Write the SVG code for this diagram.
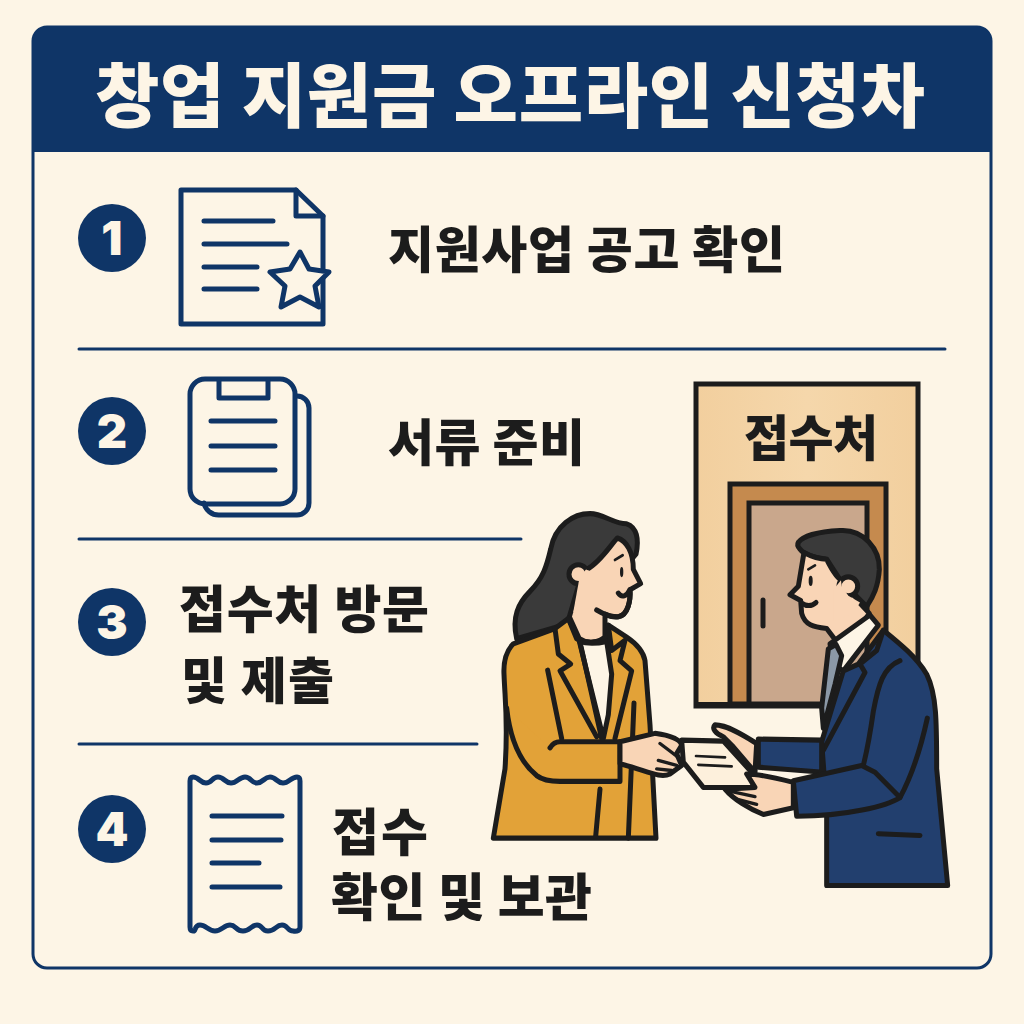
<svg xmlns="http://www.w3.org/2000/svg" width="1024" height="1024" viewBox="0 0 1024 1024">
<style>
.t{font-family:"Noto Sans CJK KR","Noto Sans",sans-serif;font-weight:900;fill:#1c1c1c}
.n{font-family:"Inter","Liberation Sans",sans-serif;font-weight:900;fill:#fdf5e6;font-size:47px;text-anchor:middle}
.i{fill:none;stroke:#0f3567;stroke-width:5;stroke-linecap:round;stroke-linejoin:round}
.d{fill:none;stroke:#0f3567;stroke-width:3;stroke-linecap:round}
.k{stroke:#1c1c1c;stroke-width:15;stroke-linejoin:round;stroke-linecap:round}
.l{fill:none;stroke:#1c1c1c;stroke-width:15;stroke-linejoin:round;stroke-linecap:round}
.c{fill:#0f3567}
</style>
<defs><linearGradient id="w" x1="0" x2="1" y1="0" y2="0"><stop offset="0" stop-color="#f2cf9e"/><stop offset=".5" stop-color="#f5d7ab"/><stop offset="1" stop-color="#f2cf9e"/></linearGradient></defs>
<rect width="1024" height="1024" fill="#fdf5e6"/>
<g id="frame">
<rect x="33" y="27" width="958" height="941" rx="14" fill="#fdf5e6" stroke="#0f3567" stroke-width="3"/>
<path d="M33,152V41a14,14 0 0 1 14,-14H977a14,14 0 0 1 14,14V152Z" fill="#0f3567"/>
<text x="95" y="122" class="t" style="fill:#fdf5e6;font-size:70px" textLength="830">창업 지원금 오프라인 신청차</text>
</g>
<g id="dividers">
<line class="d" x1="79" y1="349" x2="945" y2="349"/>
<line class="d" x1="79" y1="539" x2="521" y2="539"/>
<line class="d" x1="79" y1="744" x2="477" y2="744"/>
</g>
<g id="step1">
<circle class="c" cx="112" cy="238" r="34"/><text class="n" x="112" y="255">1</text>
<path class="i" d="M296,190H181V324H323V216Z"/>
<path class="i" d="M296,190V216H323"/>
<path class="i" d="M204,221H273M204,244H287M204,267H257M204,289H257"/>
<path d="M300,252L309,269L329,272L315,286L319,307L300,297L281,307L285,286L270,272L290,269Z" fill="#fdf5e6" stroke="#0f3567" stroke-width="5" stroke-linejoin="round"/>
<text class="t" x="388" y="268" font-size="50" textLength="397">지원사업 공고 확인</text>
</g>
<g id="step2">
<circle class="c" cx="112" cy="431" r="34"/><text class="n" x="112" y="448">2</text>
<path class="i" d="M296,396H297A12,12 0 0 1 309,408V503A12,12 0 0 1 297,515H219A15,15 0 0 1 204,503"/>
<rect class="i" x="190" y="379" width="105" height="125" rx="15"/>
<path class="i" d="M219,380V398H268V380"/>
<path class="i" d="M211,421H275M211,446H275M211,470H275"/>
<text class="t" x="388" y="461" font-size="50" textLength="197">서류 준비</text>
</g>
<g id="step3">
<circle class="c" cx="112" cy="622" r="34"/><text class="n" x="112" y="639">3</text>
<text class="t" x="179" y="628" font-size="51" textLength="250">접수처 방문</text>
<text class="t" x="181" y="699" font-size="50" textLength="153">및 제출</text>
</g>
<g id="step4">
<circle class="c" cx="112" cy="829" r="34"/><text class="n" x="112" y="846">4</text>
<path class="i" d="M193,777C199,777 200,783 206,783S212,777 218,777S225,783 231,783S239,777 245,777S251,783 257,783S264,777 270,777S277,783 283,783S291,777 297,777Q300,777 300,781V927Q300,932 293,931C287,931 288,925 282,925S275,931 268,931S263,925 257,925S250,931 243,931S236,925 230,925S222,931 215,931S206,925 200,925S196,932 193,931Q190,931 190,927V781Q190,777 193,777Z"/>
<path class="i" d="M212,816H282M212,840H281M212,863H259M212,887H280"/>
<text class="t" x="332" y="851" font-size="51" textLength="96">접수</text>
<text class="t" x="331" y="916" font-size="51" textLength="261">확인 및 보관</text>
</g>
<g id="office">
<rect x="696" y="384" width="222" height="322" fill="url(#w)" stroke="#1c1c1c" stroke-width="5"/>
<rect x="730" y="484" width="156" height="220" fill="#c58a4e" stroke="#1c1c1c" stroke-width="5"/>
<rect x="749" y="503" width="118" height="201" fill="#c9a78c" stroke="#1c1c1c" stroke-width="5"/>
<line x1="763" y1="600" x2="763" y2="626" stroke="#1c1c1c" stroke-width="5" stroke-linecap="round"/>
<rect x="696" y="702" width="222" height="5" fill="#1c1c1c"/>
<text class="t" x="744" y="456" font-size="49" textLength="134">접수처</text>
</g>
<g id="woman" transform="translate(480,370) scale(.33333,.338)">
<path class="k" fill="#3a3a3a" d="M110,795C95,730 115,690 150,655C190,615 200,580 212,530C225,460 280,425 330,425C370,425 400,455 440,455C470,465 478,500 468,545L300,740Z"/>
<path class="k" fill="#f9d5b6" d="M320,590C360,570 390,520 412,497C440,505 460,540 460,590L482,632L450,650C452,680 445,725 415,730C400,732 385,727 375,722V790C350,810 320,810 298,795L268,730L295,640Z"/>
<circle class="k" fill="#f9d5b6" cx="295" cy="604" r="28"/>
<path d="M318,590L345,600L345,690L295,725L280,715L296,628L300,610Z" fill="#f9d5b6"/>
<path class="l" d="M350,710C370,722 395,732 415,730C445,725 452,680 450,650M415,660C425,675 440,670 450,650"/>
<path class="l" style="stroke-width:8" d="M405,562L428,548"/>
<ellipse cx="425" cy="598" rx="5" ry="15" fill="#1c1c1c"/>
<path class="k" fill="#e2a238" d="M100,810C80,830 70,860 72,900C75,980 85,1040 75,1180L40,1385H528L510,1050L495,860C490,830 470,810 440,790L385,755V790C350,810 320,810 290,795L265,735L225,765Z"/>
<path class="k" fill="#fdf5e6" d="M298,803C320,810 350,810 380,803L395,900L385,1020L370,1090Z"/>
<path class="l" d="M225,765L235,840L272,870L240,890L350,1085M265,735L300,805L365,1090M385,755L395,830L435,800L420,860L455,890L405,1090"/>
<path class="l" d="M203,888L245,1090M462,985L445,1385M360,1240L347,1380"/>
<path class="k" fill="#e2a238" d="M80,1000C90,1090 120,1160 170,1200C190,1215 220,1217 240,1217H420V1100H240C225,1100 215,1110 210,1118"/>
<path class="k" fill="#f9d5b6" d="M420,1100L525,1075C560,1080 600,1090 605,1110L590,1135L605,1170L570,1195C540,1210 500,1185 420,1165Z"/>
<path class="l" style="stroke-width:10" d="M540,1105L600,1150M535,1155L590,1170M530,1180L575,1185"/>
</g>
<g id="man" transform="translate(480,370) scale(.33333,.338)">
<path class="k" fill="#3a3a3a" d="M955,510C970,490 1020,478 1080,475C1150,470 1200,530 1198,590C1195,640 1180,670 1160,700L1080,620L1040,560C1010,555 975,550 960,530C952,522 952,515 955,510Z"/>
<path class="k" fill="#f9d5b6" d="M972,540C1000,555 1020,560 1040,560C1055,590 1075,620 1090,625L1140,690L1168,720L1090,830L1040,765C1000,760 975,755 965,720L962,682L930,665L955,640C960,610 965,580 972,540Z"/>
<circle class="k" fill="#f9d5b6" cx="1105" cy="640" r="28"/>
<path d="M1083,622L1060,650L1060,745L1120,720L1140,688L1105,668L1085,640Z" fill="#f9d5b6"/>
<path class="l" d="M965,690C985,702 1000,695 1008,688"/>
<path class="l" style="stroke-width:8" d="M985,590L1005,578"/>
<ellipse cx="992" cy="624" rx="6" ry="15" fill="#1c1c1c"/>
<path class="k" fill="#fdf5e6" d="M1050,810L1170,725L1195,755L1090,890L1060,870Z"/>
<path class="k" fill="#8b98a6" d="M1045,825L1068,812L1085,845L1065,930L1030,1060L1025,1000Z"/>
<path class="k" fill="#223f6e" d="M1210,770C1260,810 1310,850 1340,900C1370,960 1370,1040 1370,1180L1403,1525H1040V1300L1025,1100L1090,890L1135,870L1210,770Z"/>
<path class="l" d="M1210,770L1190,830L1140,870L1155,895L1030,1125M1260,860C1210,880 1195,930 1180,1010C1170,1080 1160,1130 1150,1170"/>
<path class="l" d="M1195,1372L1320,1377M1342,1030C1320,1130 1290,1210 1260,1265"/>
<path class="k" fill="#f9d5b6" d="M830,1105C790,1080 740,1050 705,1050C695,1060 705,1075 730,1085L760,1115L825,1190Z"/>
<path class="k" fill="#223f6e" d="M835,1092L1025,1095V1180L1030,1190L835,1175Z"/>
<path class="k" fill="#fdf0dc" d="M605,1095L730,1098L815,1190L820,1235H670L610,1160Z"/>
<path class="l" style="stroke-width:8" d="M648,1142L735,1146M655,1168L755,1173"/>
<path class="k" fill="#f9d5b6" d="M800,1195C830,1195 900,1210 940,1220V1295L850,1315C810,1300 760,1270 735,1240L825,1235Z"/>
<path class="l" style="stroke-width:10" d="M745,1245L825,1262M770,1270L830,1285"/>
<path class="k" fill="#223f6e" d="M940,1215L1145,1170L1185,1190L1260,1265C1220,1290 1100,1320 950,1320Z"/>
</g>
</svg>
